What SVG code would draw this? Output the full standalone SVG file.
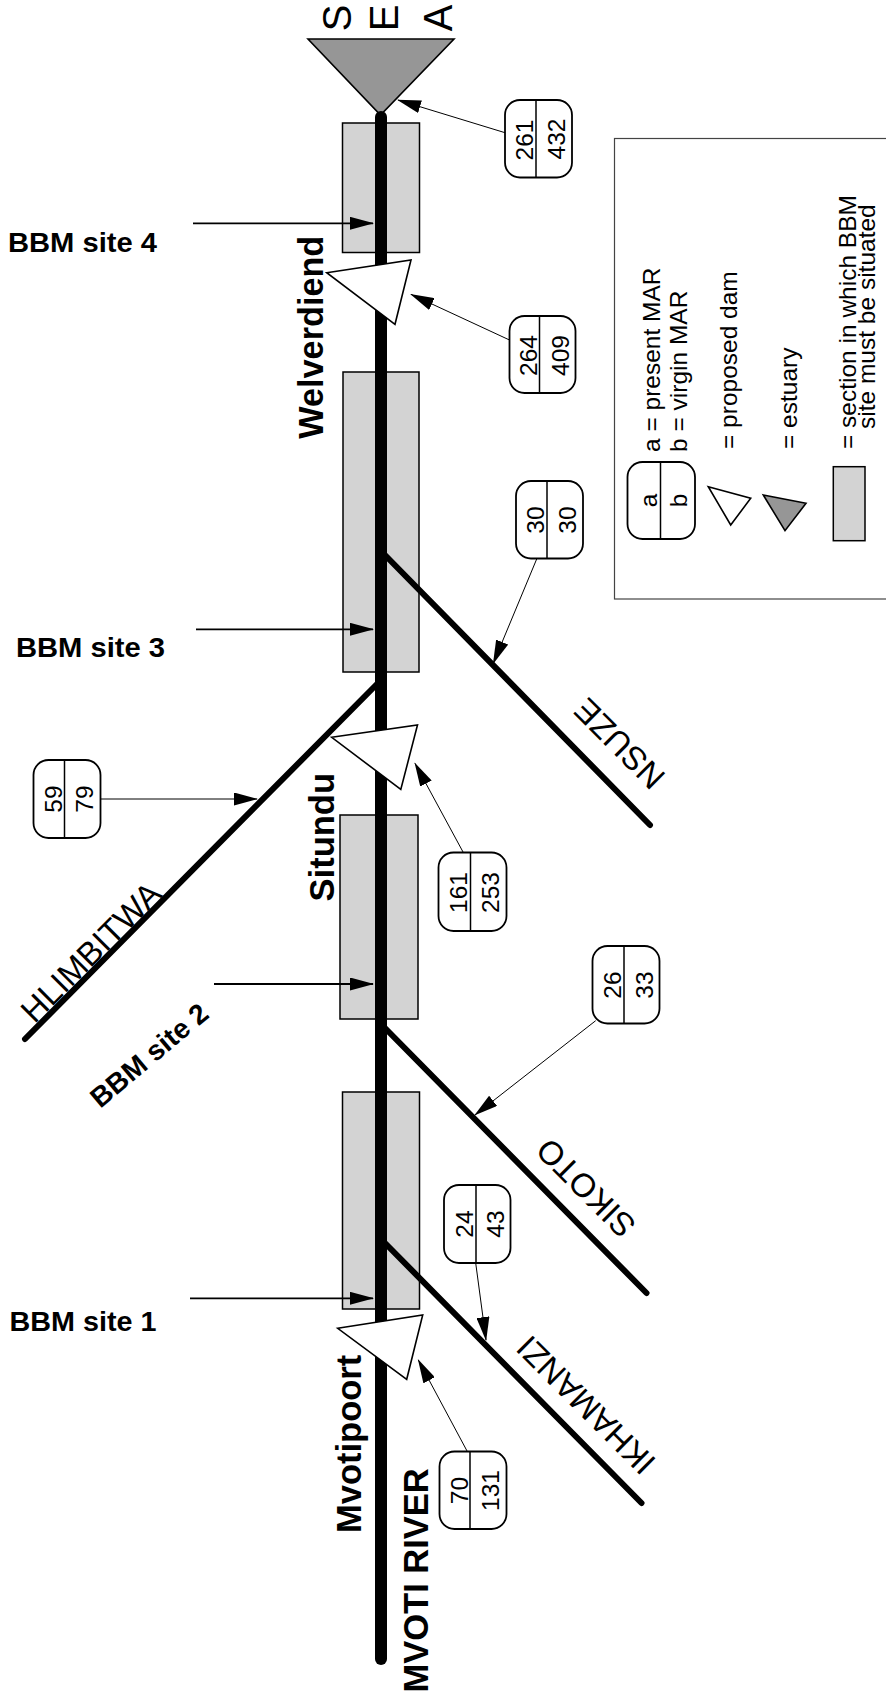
<svg xmlns="http://www.w3.org/2000/svg" width="886" height="1701" viewBox="0 0 886 1701">
<defs>
<style>
text{font-family:"Liberation Sans",Arial,Helvetica,sans-serif;fill:#000}
.sec{fill:#d3d3d3;stroke:#000;stroke-width:1.5}
.dam{fill:#fff;stroke:#000;stroke-width:1.6}
.est{fill:#969696;stroke:#000;stroke-width:1.6}
.trib{stroke:#000;stroke-width:6;stroke-linecap:round;fill:none}
.river{stroke:#000;stroke-width:12;stroke-linecap:round;fill:none}
.ptr{stroke:#000;stroke-width:1.8;fill:none}
.thin{stroke:#000;stroke-width:1;fill:none}
.box rect{fill:#fff;stroke:#000;stroke-width:1.8}
.box line{stroke:#000;stroke-width:1.5}
.num{font-size:24.5px;text-anchor:middle}
.lbl{font-size:33px;text-anchor:middle}
.site{font-size:28px;font-weight:bold}
.dname{font-size:34.5px;font-weight:bold}
.leg{font-size:24.5px}
.sea{font-size:40px;text-anchor:middle}
</style>
<marker id="ah" markerUnits="userSpaceOnUse" markerWidth="24" markerHeight="13" refX="23" refY="6.5" orient="auto"><path d="M0,0 L24,6.5 L0,13 z" fill="#000"/></marker>
</defs>

<g id="sections">
<rect id="section-4" class="sec" x="342.5" y="123" width="77" height="129.5"/>
<rect id="section-3" class="sec" x="343" y="372" width="76" height="300"/>
<rect id="section-2" class="sec" x="340" y="815" width="78" height="204"/>
<rect id="section-1" class="sec" x="342.5" y="1092" width="77" height="217"/>
</g>

<g id="tributaries">
<line id="nsuze" class="trib" x1="381" y1="551" x2="650" y2="825"/>
<line id="hlimbitwa" class="trib" x1="381" y1="680" x2="25" y2="1039"/>
<line id="sikoto" class="trib" x1="381" y1="1024" x2="646.5" y2="1293"/>
<line id="ikhamanzi" class="trib" x1="381" y1="1239" x2="641.5" y2="1503"/>
</g>

<g id="estuary">
<polygon class="est" points="308,39 454,39 380.5,115"/>
</g>

<g id="mvoti-river">
<line class="river" x1="381" y1="117" x2="381" y2="1659"/>
</g>

<g id="dams">
<polygon id="dam-welverdiend" class="dam" points="326.7,272.7 411,260 395,324.3"/>
<polygon id="dam-situndu" class="dam" points="331.7,737.3 417.5,725 400.8,789.5"/>
<polygon id="dam-mvotipoort" class="dam" points="337.7,1328.3 422.7,1315 406.7,1379.3"/>
</g>

<g id="connectors">
<line class="ptr" x1="193" y1="223.3" x2="373" y2="223.3" marker-end="url(#ah)"/>
<line class="ptr" x1="196" y1="629.3" x2="373" y2="629.3" marker-end="url(#ah)"/>
<line class="ptr" x1="214" y1="984" x2="373" y2="984" marker-end="url(#ah)"/>
<line class="ptr" x1="190" y1="1298.3" x2="373" y2="1298.3" marker-end="url(#ah)"/>
<line class="thin" x1="505" y1="132.7" x2="398" y2="100" marker-end="url(#ah)"/>
<line class="thin" x1="509.5" y1="340" x2="411" y2="294.3" marker-end="url(#ah)"/>
<line class="thin" x1="536.7" y1="559" x2="493.3" y2="663.3" marker-end="url(#ah)"/>
<line class="thin" x1="100.5" y1="799" x2="257" y2="799" marker-end="url(#ah)"/>
<line class="thin" x1="463.3" y1="852.5" x2="415" y2="763.3" marker-end="url(#ah)"/>
<line class="thin" x1="595.7" y1="1020.7" x2="475" y2="1115" marker-end="url(#ah)"/>
<line class="thin" x1="475.7" y1="1263" x2="486" y2="1340" marker-end="url(#ah)"/>
<line class="thin" x1="467.3" y1="1451.5" x2="418.3" y2="1360" marker-end="url(#ah)"/>
</g>

<g id="box-261-432" class="box" transform="translate(505,100)">
<rect width="67" height="77.5" rx="15"/><line x1="31" y1="0" x2="31" y2="77.5"/>
<text class="num" transform="translate(28,40) rotate(-90)">261</text>
<text class="num" transform="translate(60,39) rotate(-90)">432</text>
</g>
<g id="box-264-409" class="box" transform="translate(509.5,316)">
<rect width="66" height="77" rx="15"/><line x1="30" y1="0" x2="30" y2="77"/>
<text class="num" transform="translate(27.5,39.5) rotate(-90)">264</text>
<text class="num" transform="translate(59,39.5) rotate(-90)">409</text>
</g>
<g id="box-30-30" class="box" transform="translate(516,481)">
<rect width="67" height="77.5" rx="15"/><line x1="31" y1="0" x2="31" y2="77.5"/>
<text class="num" transform="translate(28,39) rotate(-90)">30</text>
<text class="num" transform="translate(60,39) rotate(-90)">30</text>
</g>
<g id="box-59-79" class="box" transform="translate(33.5,760)">
<rect width="67" height="78" rx="15"/><line x1="31" y1="0" x2="31" y2="78"/>
<text class="num" transform="translate(28,39) rotate(-90)">59</text>
<text class="num" transform="translate(59,39) rotate(-90)">79</text>
</g>
<g id="box-161-253" class="box" transform="translate(438.5,852.5)">
<rect width="68" height="78.5" rx="15"/><line x1="32" y1="0" x2="32" y2="78.5"/>
<text class="num" transform="translate(28.5,40) rotate(-90)">161</text>
<text class="num" transform="translate(60.5,40) rotate(-90)">253</text>
</g>
<g id="box-26-33" class="box" transform="translate(592.5,946)">
<rect width="67" height="77.5" rx="15"/><line x1="31.5" y1="0" x2="31.5" y2="77.5"/>
<text class="num" transform="translate(28,39) rotate(-90)">26</text>
<text class="num" transform="translate(60,39) rotate(-90)">33</text>
</g>
<g id="box-24-43" class="box" transform="translate(444,1185)">
<rect width="66.5" height="78" rx="15"/><line x1="32" y1="0" x2="32" y2="78"/>
<text class="num" transform="translate(28.5,39) rotate(-90)">24</text>
<text class="num" transform="translate(60,39) rotate(-90)">43</text>
</g>
<g id="box-70-131" class="box" transform="translate(439.5,1451.5)">
<rect width="67" height="77.5" rx="15"/><line x1="30.5" y1="0" x2="30.5" y2="77.5"/>
<text class="num" transform="translate(28,39) rotate(-90)">70</text>
<text class="num" transform="translate(59.5,39) rotate(-90)">131</text>
</g>

<g id="labels">
<text class="sea" transform="translate(350.5,18) rotate(-90)">S</text>
<text class="sea" transform="translate(398,18) rotate(-90)">E</text>
<text class="sea" transform="translate(451.7,18) rotate(-90)">A</text>
<text class="site" x="8" y="251.5" textLength="149" lengthAdjust="spacingAndGlyphs">BBM site 4</text>
<text class="site" x="16" y="657" textLength="149" lengthAdjust="spacingAndGlyphs">BBM site 3</text>
<text class="site" text-anchor="middle" transform="translate(155.4,1062.7) rotate(-40)" textLength="144" lengthAdjust="spacingAndGlyphs">BBM site 2</text>
<text class="site" x="9.5" y="1331" textLength="147" lengthAdjust="spacingAndGlyphs">BBM site 1</text>
<text class="dname" transform="translate(323,438.7) rotate(-90)" textLength="203" lengthAdjust="spacingAndGlyphs">Welverdiend</text>
<text class="dname" transform="translate(334.3,901.4) rotate(-90)">Situndu</text>
<text class="dname" transform="translate(360.5,1533) rotate(-90)">Mvotipoort</text>
<text class="dname" transform="translate(428,1692.5) rotate(-90)">MVOTI RIVER</text>
<text class="lbl" transform="translate(99,960) rotate(-45)">HLIMBITWA</text>
<text class="lbl" transform="translate(627.4,735.6) rotate(-135)">NSUZE</text>
<text class="lbl" transform="translate(594,1180) rotate(-135)">SIKOTO</text>
<text class="lbl" transform="translate(594,1397) rotate(-135)">IKHAMANZI</text>
</g>

<g id="legend">
<rect x="614.5" y="138.5" width="290" height="460.5" fill="none" stroke="#444" stroke-width="1.2"/>
<g class="box" transform="translate(627.5,462)">
<rect width="67.5" height="77" rx="15"/><line x1="33" y1="0" x2="33" y2="77"/>
<text class="num" transform="translate(29,38.5) rotate(-90)">a</text>
<text class="num" transform="translate(59,38.5) rotate(-90)">b</text>
</g>
<polygon class="dam" points="708.3,486.7 750.7,498.3 730.7,525"/>
<polygon class="est" points="763.3,495 806,503.3 785,530.7"/>
<rect class="sec" x="833.3" y="466.7" width="31.7" height="74"/>
<text class="leg" transform="translate(659.5,452) rotate(-90)">a = present MAR</text>
<text class="leg" transform="translate(686.5,452) rotate(-90)">b = virgin MAR</text>
<text class="leg" transform="translate(737,449) rotate(-90)">= proposed dam</text>
<text class="leg" transform="translate(796.5,449) rotate(-90)">= estuary</text>
<text class="leg" transform="translate(855.5,449) rotate(-90)">= section in which BBM</text>
<text class="leg" transform="translate(875,429) rotate(-90)">site must be situated</text>
</g>
</svg>
